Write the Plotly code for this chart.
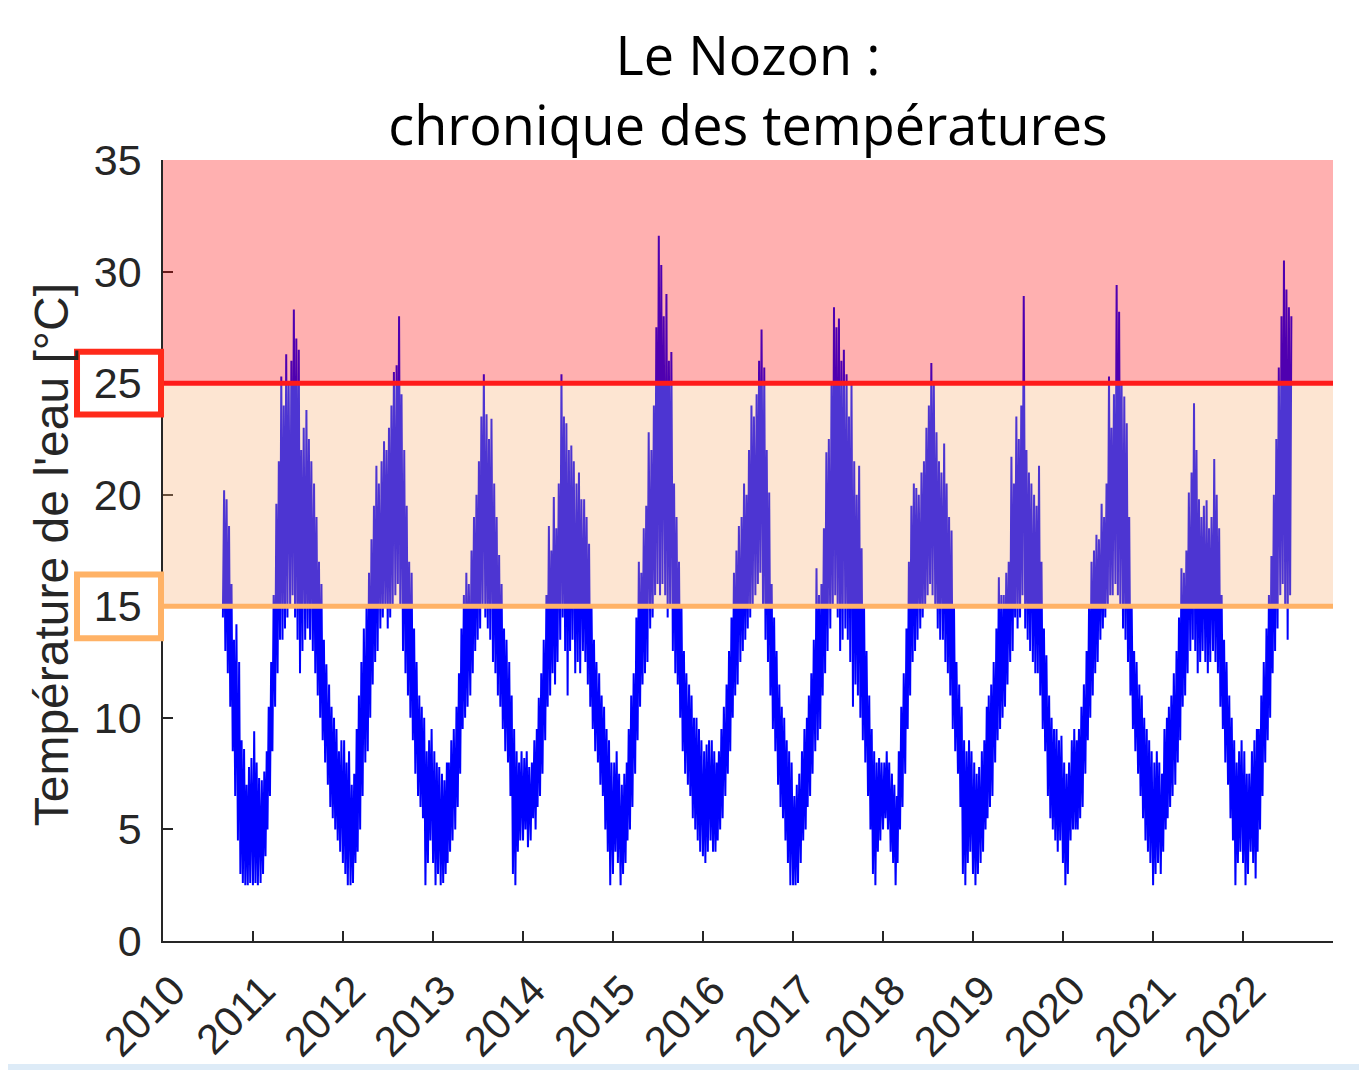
import datetime as dt
import plotly.graph_objects as go

# ---------------- data (10-day periods: lows and highs, °C) ----------------
# 2010 starts in September; other years start in January (3 periods per month)
low_2010 = [14.5, 13.0, 12.0, 10.5, 8.5, 6.5, 4.5, 3.0, 2.6, 2.5, 2.5, 2.6]
high_2010 = [20.2, 19.8, 18.6, 16.0, 13.5, 14.2, 12.5, 9.0, 8.6, 7.0, 7.8, 8.2]

low_2011 = [2.5, 2.6, 2.5, 2.6, 3.0, 3.8, 5.0, 6.5, 8.5, 10.5, 12.0, 13.5,
            13.5, 14.0, 14.5, 15.0, 15.5, 14.5, 13.5, 12.0, 13.0, 13.5, 14.0, 13.5,
            13.0, 12.0, 11.0, 10.0, 9.0, 8.0, 7.0, 6.0, 5.5, 5.0, 4.5, 4.0]
high_2011 = [9.4, 8.0, 7.3, 7.2, 7.6, 8.5, 10.5, 12.5, 15.5, 19.6, 21.5, 25.3,
             24.0, 26.3, 25.0, 26.0, 28.3, 27.0, 26.5, 22.0, 23.0, 23.8, 22.5, 21.5,
             20.5, 19.0, 17.0, 16.0, 13.5, 12.4, 11.5, 10.5, 10.0, 9.5, 8.5, 9.0]

low_2012 = [3.5, 3.0, 2.5, 2.5, 2.6, 3.5, 4.0, 5.0, 6.5, 8.0, 8.5, 10.0,
            11.5, 12.5, 13.0, 14.0, 14.5, 15.0, 14.0, 14.5, 15.0, 15.5, 16.0, 15.0,
            13.0, 12.0, 11.0, 10.0, 9.0, 7.5, 6.5, 6.0, 5.5, 2.5, 3.5, 4.5]
high_2012 = [9.0, 8.0, 8.5, 7.0, 7.5, 9.5, 11.0, 12.5, 14.0, 15.0, 16.5, 18.0,
             19.5, 21.3, 20.5, 21.5, 22.4, 22.0, 23.0, 24.0, 25.5, 25.8, 28.0, 24.5,
             22.0, 19.5, 17.0, 16.5, 14.0, 12.5, 11.0, 10.5, 10.0, 8.5, 9.0, 9.5]

low_2013 = [3.5, 2.5, 3.0, 2.5, 2.6, 3.0, 3.5, 4.0, 4.5, 5.0, 6.0, 7.5,
            9.5, 10.0, 10.5, 11.0, 12.0, 13.0, 13.5, 14.0, 15.0, 14.5, 14.0, 13.5,
            12.5, 12.0, 11.0, 10.5, 9.5, 8.5, 8.0, 6.5, 3.0, 2.5, 4.0, 4.5]
high_2013 = [8.5, 8.0, 7.8, 7.5, 7.2, 8.0, 8.0, 9.0, 9.5, 10.5, 12.0, 14.0,
             15.5, 16.5, 16.0, 17.5, 19.0, 20.0, 21.5, 23.5, 25.4, 23.6, 22.5, 23.4,
             20.5, 19.0, 17.3, 16.0, 14.0, 13.5, 12.5, 11.0, 9.5, 8.5, 8.0, 8.5]

low_2014 = [4.5, 5.0, 4.2, 4.5, 5.5, 5.0, 6.0, 6.5, 7.5, 9.0, 10.5, 11.0,
            12.0, 11.5, 12.5, 13.5, 14.5, 13.0, 11.0, 13.0, 13.5, 12.0, 12.5, 12.0,
            13.0, 12.5, 11.5, 10.5, 9.5, 8.5, 8.0, 7.0, 6.5, 5.0, 4.0, 2.5]
high_2014 = [8.2, 8.5, 7.8, 8.0, 9.0, 9.5, 10.9, 12.0, 13.5, 15.5, 18.6, 17.5,
             19.9, 18.5, 20.5, 25.4, 23.5, 23.2, 22.0, 22.2, 21.5, 20.5, 21.0, 19.8,
             19.8, 19.0, 17.8, 15.0, 13.5, 12.5, 12.0, 11.0, 10.5, 9.5, 9.0, 8.0]

low_2015 = [3.0, 4.0, 3.5, 2.5, 3.0, 3.5, 4.5, 5.0, 6.0, 7.5, 9.0, 10.5,
            11.5, 12.0, 12.5, 14.0, 14.5, 15.5, 16.0, 15.5, 16.0, 15.5, 14.5, 15.0,
            13.0, 12.0, 11.5, 10.0, 8.5, 7.5, 7.0, 6.5, 5.5, 5.0, 4.5, 4.0]
high_2015 = [8.0, 8.5, 7.5, 7.0, 7.5, 8.0, 9.5, 11.0, 12.0, 14.5, 17.0, 16.5,
             18.5, 19.5, 22.8, 22.0, 24.0, 27.5, 31.6, 30.3, 28.0, 29.0, 26.0, 26.4,
             20.5, 19.0, 17.0, 15.0, 13.0, 12.0, 11.5, 11.0, 10.0, 10.0, 9.5, 9.0]

low_2016 = [3.8, 3.5, 4.0, 4.5, 4.0, 4.0, 4.5, 5.0, 5.5, 6.5, 7.5, 8.5,
            10.0, 11.0, 11.5, 12.5, 13.0, 13.5, 14.0, 14.5, 15.0, 15.5, 16.0, 16.5,
            15.0, 13.5, 12.5, 11.0, 9.5, 8.5, 7.0, 6.0, 5.5, 4.5, 3.5, 2.5]
high_2016 = [8.5, 8.8, 9.0, 9.0, 8.5, 8.0, 8.5, 9.5, 10.5, 11.5, 13.0, 14.5,
             16.5, 17.5, 18.6, 19.0, 20.5, 20.0, 22.0, 24.0, 23.5, 24.5, 26.0, 27.4,
             25.7, 22.0, 20.1, 16.0, 14.5, 13.0, 11.5, 10.5, 10.0, 9.0, 8.5, 8.0]

low_2017 = [2.5, 2.5, 2.6, 3.5, 4.5, 5.0, 6.0, 6.5, 7.5, 8.5, 9.0, 9.5,
            11.0, 12.0, 13.0, 14.0, 15.0, 15.5, 14.5, 13.0, 13.5, 14.0, 13.5, 12.5,
            10.5, 11.5, 11.0, 10.0, 9.0, 8.0, 6.5, 5.0, 3.0, 2.5, 4.0, 4.5]
high_2017 = [6.5, 7.0, 7.5, 8.5, 9.5, 10.0, 11.0, 12.0, 13.5, 16.7, 15.5, 16.0,
             18.5, 21.9, 22.5, 25.0, 28.4, 27.5, 27.9, 26.0, 26.5, 25.4, 23.5, 25.0,
             21.5, 20.0, 21.3, 17.6, 15.0, 13.0, 11.0, 9.5, 8.5, 8.0, 8.2, 8.0]

low_2018 = [5.0, 5.5, 5.0, 4.0, 3.5, 2.5, 3.5, 5.0, 6.0, 7.5, 9.5, 11.0,
            12.5, 13.0, 13.5, 14.0, 14.5, 15.0, 15.5, 16.0, 15.5, 15.0, 14.0, 13.5,
            13.5, 12.5, 12.0, 11.0, 9.5, 8.5, 7.5, 6.0, 3.0, 2.5, 3.5, 4.0]
high_2018 = [8.0, 8.5, 8.0, 7.5, 7.0, 6.5, 8.5, 10.5, 12.0, 14.0, 17.0, 19.5,
             20.5, 20.3, 20.0, 21.0, 21.5, 23.0, 24.0, 25.9, 25.0, 22.8, 21.5, 21.0,
             22.3, 20.5, 19.0, 18.4, 15.0, 12.5, 11.5, 10.5, 9.0, 8.5, 9.0, 8.5]

low_2019 = [3.0, 2.5, 3.0, 3.5, 4.0, 5.0, 5.5, 6.0, 6.5, 8.0, 9.0, 9.5,
            10.0, 10.5, 11.5, 12.5, 13.0, 14.5, 14.0, 14.5, 15.5, 14.0, 13.5, 13.0,
            12.5, 12.0, 12.0, 11.0, 9.5, 8.5, 6.5, 5.5, 5.0, 4.5, 4.0, 4.5]
high_2019 = [8.0, 7.5, 7.8, 8.5, 9.0, 10.5, 11.0, 11.5, 12.5, 14.0, 16.3, 15.5,
             15.5, 16.5, 17.0, 21.7, 20.5, 23.5, 22.5, 24.0, 28.9, 22.0, 21.0, 20.5,
             20.0, 19.5, 21.3, 17.0, 14.0, 12.8, 11.0, 10.0, 9.5, 9.5, 9.0, 9.2]

low_2020 = [3.5, 2.5, 3.0, 4.5, 5.0, 5.0, 5.0, 5.5, 6.0, 7.5, 9.0, 10.0,
            11.0, 12.0, 12.5, 13.5, 14.0, 14.5, 15.0, 15.5, 15.5, 16.0, 15.5, 15.0,
            14.0, 13.5, 12.5, 11.0, 9.5, 8.5, 7.5, 6.5, 5.5, 4.5, 4.0, 3.5]
high_2020 = [8.0, 7.5, 8.0, 9.0, 9.5, 9.0, 9.5, 10.5, 11.5, 13.0, 15.0, 17.0,
             17.5, 18.2, 18.0, 19.6, 19.0, 20.5, 25.3, 23.0, 24.5, 29.4, 28.2, 25.0,
             24.4, 23.2, 19.0, 15.0, 13.0, 12.5, 11.5, 11.0, 10.0, 9.5, 9.0, 8.5]

low_2021 = [2.5, 3.0, 3.5, 3.0, 4.0, 5.0, 5.5, 6.0, 6.5, 7.0, 8.0, 9.0,
            10.5, 11.0, 12.0, 13.0, 13.5, 13.0, 12.0, 12.5, 13.0, 12.5, 12.0, 12.5,
            13.0, 12.5, 12.0, 10.5, 9.5, 8.0, 7.0, 5.5, 4.5, 2.5, 3.5, 4.0]
high_2021 = [8.0, 8.5, 8.0, 7.5, 9.5, 10.0, 10.5, 11.0, 12.0, 13.0, 14.5, 16.7,
             16.5, 17.5, 20.1, 21.0, 24.1, 22.0, 19.8, 19.0, 19.5, 19.75, 18.5, 19.0,
             21.6, 20.0, 18.5, 15.5, 13.5, 12.5, 11.0, 10.0, 9.0, 8.0, 8.5, 9.0]

low_2022 = [3.5, 2.5, 3.0, 4.0, 3.5, 2.8, 4.0, 5.0, 6.5, 8.0, 9.0, 10.0,
            12.0, 13.0, 14.0, 15.5, 16.0, 15.0, 13.5, 15.5]
high_2022 = [8.5, 7.5, 7.5, 8.5, 9.0, 9.5, 9.5, 11.0, 12.5, 14.0, 15.5, 17.25,
             20.0, 22.5, 25.7, 28.0, 30.5, 29.2, 28.4, 28.0]

years = [2010, 2011, 2012, 2013, 2014, 2015, 2016, 2017, 2018, 2019, 2020, 2021, 2022]
start_months = [9, 1, 1, 1, 1, 1, 1, 1, 1, 1, 1, 1, 1]
lows = [low_2010, low_2011, low_2012, low_2013, low_2014, low_2015, low_2016,
        low_2017, low_2018, low_2019, low_2020, low_2021, low_2022]
highs = [high_2010, high_2011, high_2012, high_2013, high_2014, high_2015, high_2016,
         high_2017, high_2018, high_2019, high_2020, high_2021, high_2022]

tick_years = [2010, 2011, 2012, 2013, 2014, 2015, 2016, 2017, 2018, 2019, 2020, 2021, 2022]
y_ticks = [0, 5, 10, 15, 20, 25, 30, 35]
seuil_haut = 25
seuil_bas = 15


def dekads(year, month, n):
    out = []
    y, m = year, month
    while len(out) < n:
        for d in (1, 11, 21):
            if len(out) < n:
                out.append(dt.date(y, m, d))
        m += 1
        if m > 12:
            m, y = 1, y + 1
    return out


xs, ys = [], []
for yr, m0, lo, hi in zip(years, start_months, lows, highs):
    for d, a, b in zip(dekads(yr, m0, len(lo)), lo, hi):
        xs += [d, d + dt.timedelta(days=5)]
        ys += [a, b]

fig = go.Figure()
fig.add_trace(go.Scatter(x=xs, y=ys, mode="lines",
                         line=dict(color="#0000FF", width=2.0),
                         showlegend=False, hoverinfo="skip"))

AX = "#262626"
shapes = [
    # coloured bands (drawn above the series, semi-transparent)
    dict(type="rect", xref="paper", yref="y", x0=0, x1=1, y0=seuil_haut, y1=35,
         fillcolor="rgba(255,0,0,0.31)", line=dict(width=0), layer="above"),
    dict(type="rect", xref="paper", yref="y", x0=0, x1=1, y0=seuil_bas, y1=seuil_haut,
         fillcolor="rgba(248,171,110,0.31)", line=dict(width=0), layer="above"),
    # threshold lines
    dict(type="line", xref="paper", yref="y", x0=0, x1=1, y0=seuil_haut, y1=seuil_haut,
         line=dict(color="#FF1A1A", width=5), layer="above"),
    dict(type="line", xref="paper", yref="y", x0=0, x1=1, y0=seuil_bas, y1=seuil_bas,
         line=dict(color="#FFB266", width=5), layer="above"),
    # highlight boxes around tick labels
    dict(type="rect", xref="paper", yref="y", x0=-0.0735, x1=-0.0017,
         y0=seuil_haut - 1.41, y1=seuil_haut + 1.41,
         line=dict(color="#FF2A1A", width=6), fillcolor="rgba(0,0,0,0)", layer="above"),
    dict(type="rect", xref="paper", yref="y", x0=-0.0735, x1=-0.0017,
         y0=seuil_bas - 1.43, y1=seuil_bas + 1.43,
         line=dict(color="#FFB266", width=6), fillcolor="rgba(0,0,0,0)", layer="above"),
    # screenshot frame strip at the bottom
    dict(type="rect", xref="paper", yref="paper", x0=-0.14, x1=1.03, y0=-0.166, y1=-0.1575,
         fillcolor="#DDEBF7", line=dict(width=0), layer="below"),
]

fig.update_layout(
    width=1359, height=1062,
    margin=dict(l=155, r=34, t=152, b=129, pad=0, autoexpand=False),
    paper_bgcolor="white", plot_bgcolor="white",
    shapes=shapes,
    title=dict(text="Le Nozon :<br>chronique des températures",
               x=0.5, xref="paper", xanchor="center",
               y=0.937, yref="container", yanchor="middle",
               font=dict(family="Open Sans", size=54, color="black")),
    annotations=[dict(text="Température de l'eau [°C]", textangle=-90,
                      xref="paper", yref="paper", x=-0.095, y=0.495,
                      xanchor="center", yanchor="middle", showarrow=False,
                      font=dict(family="Liberation Sans", size=48, color=AX))],
)

fig.update_xaxes(
    type="date", range=[dt.date(2010, 1, 1), dt.date(2023, 1, 1)],
    tickvals=[dt.date(y, 1, 1) for y in tick_years],
    ticktext=[str(y) for y in tick_years],
    tickangle=-45, ticks="inside", ticklen=10, tickwidth=1.5, tickcolor=AX,
    showline=True, linecolor=AX, linewidth=1.5, mirror=False,
    showgrid=False, zeroline=False, automargin=False,
    ticklabelshift=10, ticklabelstandoff=6,
    tickfont=dict(family="Liberation Sans", size=42, color=AX),
)
fig.update_yaxes(
    range=[0, 35], tickvals=y_ticks, ticktext=[str(v) for v in y_ticks],
    ticks="inside", ticklen=10, tickwidth=1.5, tickcolor=AX,
    showline=True, linecolor=AX, linewidth=1.5, mirror=False,
    showgrid=False, zeroline=False, automargin=False, ticklabelstandoff=11,
    tickfont=dict(family="Liberation Sans", size=43, color=AX),
)

fig.write_html("out.html")
